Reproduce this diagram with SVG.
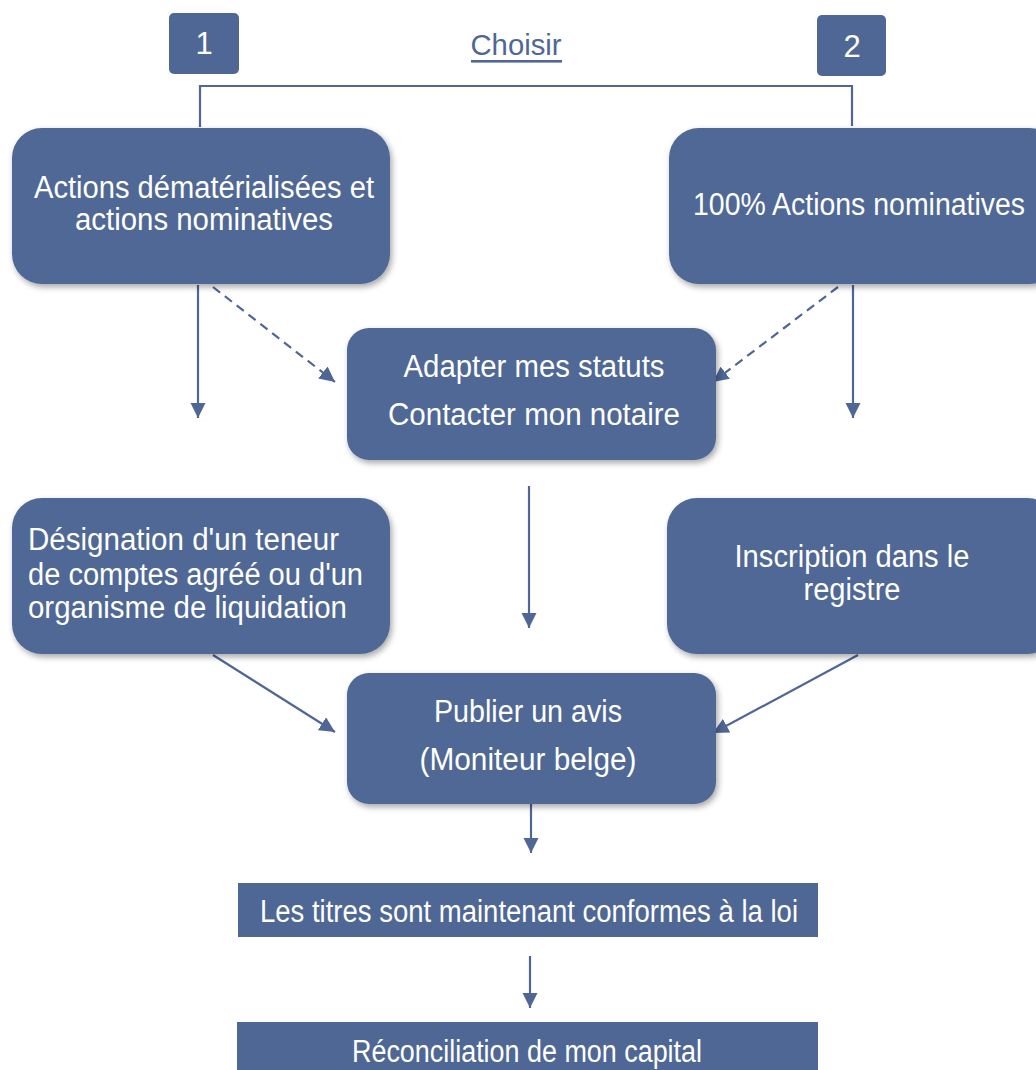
<svg xmlns="http://www.w3.org/2000/svg" width="1036" height="1070" viewBox="0 0 1036 1070">
<defs>
<style>
.box{fill:#4F6795;}
.rbox{fill:#4F6795;filter:url(#sh);}
.t{font-family:"Liberation Sans",Arial,sans-serif;fill:#ffffff;font-size:31px;}
.c{text-anchor:middle;}
.ln{stroke:#4F6795;stroke-width:2.2;fill:none;}
.dash{stroke-dasharray:9 6;}
</style>
<filter id="sh" x="-10%" y="-10%" width="125%" height="130%">
<feGaussianBlur in="SourceAlpha" stdDeviation="3"/>
<feOffset dx="2" dy="3" result="b"/>
<feComponentTransfer><feFuncA type="linear" slope="0.35"/></feComponentTransfer>
<feMerge><feMergeNode/><feMergeNode in="SourceGraphic"/></feMerge>
</filter>
<marker id="ah" viewBox="0 0 10 10" refX="10" refY="5" markerWidth="7" markerHeight="7" orient="auto" markerUnits="strokeWidth">
<path d="M0,0 L10,5 L0,10 z" fill="#4F6795"/>
</marker>
</defs>

<g id="header">
<g id="n1"><rect class="box" x="169" y="13" width="70" height="61" rx="5"/><text class="t c" x="204" y="54" font-size="28">1</text></g>
<g id="n2"><rect class="box" x="817" y="15" width="69" height="61" rx="5"/><text class="t c" x="852" y="57" font-size="28">2</text></g>
<g id="choisir"><text x="516" y="55" font-family="Liberation Sans,Arial,sans-serif" font-size="30" fill="#4F6795" text-anchor="middle" textLength="91" lengthAdjust="spacingAndGlyphs">Choisir</text>
<rect x="471" y="60" width="91" height="2.6" fill="#4F6795"/></g>
</g>

<g id="connectors">
<path class="ln" d="M200,127 V86 H852 V126"/>
<line class="ln" x1="198" y1="285" x2="198" y2="418" marker-end="url(#ah)"/>
<line class="ln dash" x1="213" y1="287" x2="335" y2="382" marker-end="url(#ah)"/>
<line class="ln dash" x1="838" y1="287" x2="713" y2="382" marker-end="url(#ah)"/>
<line class="ln" x1="853" y1="285" x2="853" y2="418" marker-end="url(#ah)"/>
<line class="ln" x1="529" y1="486" x2="529" y2="628" marker-end="url(#ah)"/>
<line class="ln" x1="213" y1="655" x2="335" y2="732" marker-end="url(#ah)"/>
<line class="ln" x1="858" y1="655" x2="713" y2="733" marker-end="url(#ah)"/>
<line class="ln" x1="531" y1="804" x2="531" y2="853" marker-end="url(#ah)"/>
<line class="ln" x1="530" y1="956" x2="530" y2="1008" marker-end="url(#ah)"/>
</g>

<g id="nodeA"><rect class="rbox" x="12" y="128" width="378" height="156" rx="30"/>
<text class="t c" x="204" y="198" textLength="340" lengthAdjust="spacingAndGlyphs">Actions dématérialisées et</text>
<text class="t c" x="204" y="230" textLength="258" lengthAdjust="spacingAndGlyphs">actions nominatives</text></g>

<g id="nodeB"><rect class="rbox" x="669" y="128" width="390" height="156" rx="30"/>
<text class="t c" x="859" y="215" textLength="332" lengthAdjust="spacingAndGlyphs">100% Actions nominatives</text></g>

<g id="nodeC"><rect class="rbox" x="347" y="328" width="369" height="132" rx="22"/>
<text class="t c" x="534" y="377" textLength="261" lengthAdjust="spacingAndGlyphs">Adapter mes statuts</text>
<text class="t c" x="534" y="425" textLength="292" lengthAdjust="spacingAndGlyphs">Contacter mon notaire</text></g>

<g id="nodeD"><rect class="rbox" x="12" y="498" width="378" height="156" rx="30"/>
<text class="t" x="28" y="550" textLength="311" lengthAdjust="spacingAndGlyphs">Désignation d'un teneur</text>
<text class="t" x="28" y="585" textLength="335" lengthAdjust="spacingAndGlyphs">de comptes agréé ou d'un</text>
<text class="t" x="28" y="618" textLength="319" lengthAdjust="spacingAndGlyphs">organisme de liquidation</text></g>

<g id="nodeE"><rect class="rbox" x="667" y="498" width="390" height="156" rx="30"/>
<text class="t c" x="852" y="567" textLength="235" lengthAdjust="spacingAndGlyphs">Inscription dans le</text>
<text class="t c" x="852" y="600" textLength="97" lengthAdjust="spacingAndGlyphs">registre</text></g>

<g id="nodeF"><rect class="rbox" x="347" y="673" width="369" height="131" rx="22"/>
<text class="t c" x="528" y="722" textLength="188" lengthAdjust="spacingAndGlyphs">Publier un avis</text>
<text class="t c" x="528" y="770" textLength="217" lengthAdjust="spacingAndGlyphs">(Moniteur belge)</text></g>

<g id="nodeG"><rect class="box" x="238" y="883" width="580" height="54"/>
<text class="t c" x="529" y="922" font-size="28" textLength="538" lengthAdjust="spacingAndGlyphs">Les titres sont maintenant conformes à la loi</text></g>

<g id="nodeH"><rect class="box" x="237" y="1022" width="581" height="60"/>
<text class="t c" x="527" y="1062" font-size="28" textLength="350" lengthAdjust="spacingAndGlyphs">Réconciliation de mon capital</text></g>
</svg>
